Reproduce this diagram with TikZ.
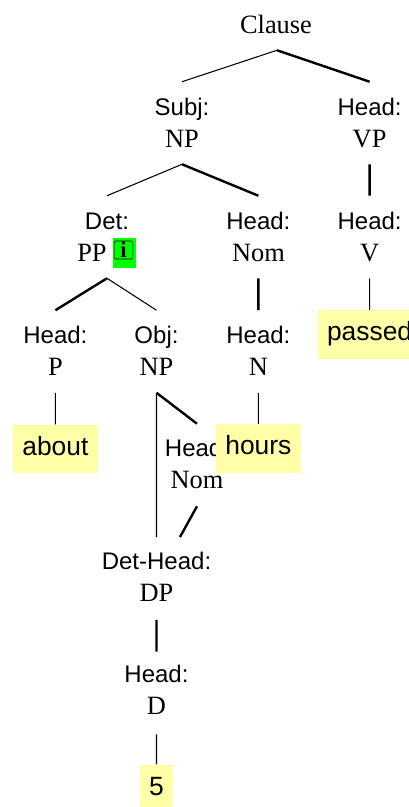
\documentclass[tikz,border=0pt]{standalone}
\usepackage{fontspec}
\setmainfont{Liberation Serif}
\setsansfont{Liberation Sans}
\definecolor{leafyellow}{HTML}{FFFFA8}
\newcommand{\fnlab}[1]{{\fontsize{18}{24}\selectfont\sffamily #1}}
\newcommand{\liftup}[1]{\rule[-#1]{0pt}{#1}}
\tikzset{
  cat/.style={inner sep=0pt,minimum height=61.5pt,align=center,
    font=\fontsize{19.8}{24}\selectfont},
  leaf/.style={inner ysep=0pt,inner xsep=7pt,text height=23pt,text depth=13.5pt,fill=leafyellow,
    font=\fontsize{19.8}{24}\selectfont\sffamily},
  thinedge/.style={black,line width=0.8pt},
  thickedge/.style={black,line width=1.8pt}
}
\begin{document}
\begin{tikzpicture}[x=0.75pt,y=-0.75pt]
	   \useasboundingbox (0,0) rectangle (409,807);
	   % clause level
	   \node (clause) at (277,24) [cat,minimum height=39pt] {Clause\hspace*{1.5pt}};
	   \node (subj) at (182,123) [cat] {\fnlab{Subj:}\\NP};
	   \node (headvp) at (369.6,123) [cat] {\fnlab{Head:}\\VP};
	   \node (det) at (107,237) [cat] {\fnlab{Det:}\\PP\hspace*{22.5pt}};
	   \node (headnom) at (258.4,237) [cat] {\fnlab{Head:}\\Nom};
	   \node (headv) at (369.6,237) [cat] {\fnlab{Head:}\\V};
	   \node (headp) at (55.4,351.5) [cat] {\fnlab{Head:}\\P\liftup{1.5pt}};
	   \node (obj) at (156.5,351.5) [cat] {\fnlab{Obj:}\\NP\liftup{1.5pt}};
	   \node (headn) at (258.4,351.5) [cat] {\fnlab{Head:}\\N\liftup{1.5pt}};
	   \node (headnomb) at (197,465) [cat] {\fnlab{Head:}\\Nom\liftup{1.5pt}};
	   \node (dethead) at (156.5,578.5) [cat] {\fnlab{Det-Head:}\\DP\liftup{3pt}};
	   \node (headd) at (156.5,693) [cat] {\fnlab{Head:}\\D\liftup{4.5pt}};
	   \coordinate (detgap) at (180,537);
	   % info icon
	   \node (infobox) at (124.5,253) [fill=green,minimum width=17.25pt,minimum height=22.5pt,inner sep=0pt] {};
	   \node (infoicon) at (123.5,250) [draw=black,line width=0.4pt,rounded corners=1pt,
	     minimum width=14pt,minimum height=13.5pt,inner sep=0pt,
	     font=\fontsize{17}{17}\selectfont\bfseries] {i};
	   % words
	   \node (passed) at (369.6,334.5) [leaf] {passed};
	   \node (about) at (55.4,449) [leaf] {about};
	   \node (hours) at (258.4,448.5) [leaf] {hours};
	   \node (five) at (156.5,789) [leaf] {5};
	   \draw [thinedge]
	     (clause.south) -- (subj.north)
	     (subj.south) -- (det.north)
	     (det.south) -- (obj.north)
	     (headv.south) -- (passed.north)
	     (headp.south) -- (about.north)
	     (headn.south) -- (hours.north)
	     (obj.south) -- (dethead.north)
	     (headd.south) -- (five.north);
	   \draw [thickedge]
	     (clause.south) -- (headvp.north)
	     (subj.south) -- (headnom.north)
	     (headvp.south) -- (headv.north)
	     (det.south) -- (headp.north)
	     (headnom.south) -- (headn.north)
	     (obj.south) -- (headnomb.north)
	     (headnomb.south) -- (detgap)
	     (dethead.south) -- (headd.north);
\end{tikzpicture}
\end{document}
